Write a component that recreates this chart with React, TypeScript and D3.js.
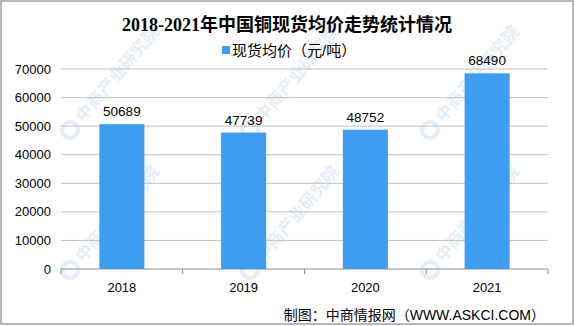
import React from "react";
import * as d3 from "d3";

const years = ["2018", "2019", "2020", "2021"];
const prices = [50689, 47739, 48752, 68490];
const yTicks = [0, 10000, 20000, 30000, 40000, 50000, 60000, 70000];
const title = "2018-2021年中国铜现货均价走势统计情况";
const legendLabel = "现货均价（元/吨）";
const source = "制图：中商情报网（WWW.ASKCI.COM）";
const watermarks = [
  [70, 130], [250, 130], [430, 130],
  [70, 270], [250, 270], [430, 270],
];

export default function App() {
  const W = 575, H = 326;
  const left = 61, right = 548, top = 69, bottom = 269;
  const x = d3.scaleBand().domain(years).range([left, right]).paddingInner(0.63).paddingOuter(0.315);
  const xb = d3.scaleBand().domain(years).range([left, right]);
  const y = d3.scaleLinear().domain([0, 70000]).range([bottom, top]);
  const sans = "'Liberation Sans', 'Noto Sans CJK SC', sans-serif";
  return (
    <svg width={W} height={H} style={{ position: "absolute", left: 0, top: 0, background: "#fff" }}>
      <rect x={1} y={1} width={W - 3} height={H - 3} fill="#fff" stroke="#a0a0a0" strokeWidth={1.5} />
      {watermarks.map(([wx, wy], i) => (
        <g key={i} transform={`translate(${wx},${wy}) rotate(-50)`} opacity={0.15}>
          <circle cx={0} cy={0} r={8} fill="none" stroke="#4a90d9" strokeWidth={4} />
          <text x={14} y={6} fontSize={17} fontWeight="bold" fill="#4a90d9" fontFamily="'Noto Sans CJK SC', sans-serif">中商产业研究院</text>
        </g>
      ))}
      {yTicks.map((t) => (
        <g key={t}>
          {t > 0 && <line x1={left} x2={right} y1={y(t)} y2={y(t)} stroke="#c0c0c0" strokeWidth={1} />}
          <text x={51} y={y(t) + 4.5} textAnchor="end" fontSize={13} fontFamily={sans} fill="#000">{t}</text>
        </g>
      ))}
      <line x1={left} x2={right} y1={bottom} y2={bottom} stroke="#8c8c8c" strokeWidth={1} />
      {years.map((yr) => (
        <line key={"t" + yr} x1={xb(yr)!} x2={xb(yr)!} y1={bottom} y2={bottom + 5} stroke="#8c8c8c" />
      ))}
      <line x1={right} x2={right} y1={bottom} y2={bottom + 5} stroke="#8c8c8c" />
      {years.map((yr, i) => (
        <g key={yr}>
          <rect x={x(yr)!} y={y(prices[i])} width={x.bandwidth()} height={bottom - y(prices[i])} fill="#3d9df0" />
          <text x={x(yr)! + x.bandwidth() / 2} y={y(prices[i]) - 8} textAnchor="middle" fontSize={13.5} fontFamily={sans}>{prices[i]}</text>
          <text x={x(yr)! + x.bandwidth() / 2} y={bottom + 23} textAnchor="middle" fontSize={13} fontFamily={sans}>{yr}</text>
        </g>
      ))}
      <text x={287} y={31} textAnchor="middle" fontSize={18} fontWeight="bold" fontFamily="'Liberation Serif', 'Noto Sans CJK SC', serif">{title}</text>
      <rect x={222} y={46} width={8} height={8} fill="#3d9df0" />
      <text x={232} y={56} fontSize={15} fontFamily={sans}>{legendLabel}</text>
      <text x={545} y={320} textAnchor="end" fontSize={14} fontFamily={sans}>{source}</text>
    </svg>
  );
}
